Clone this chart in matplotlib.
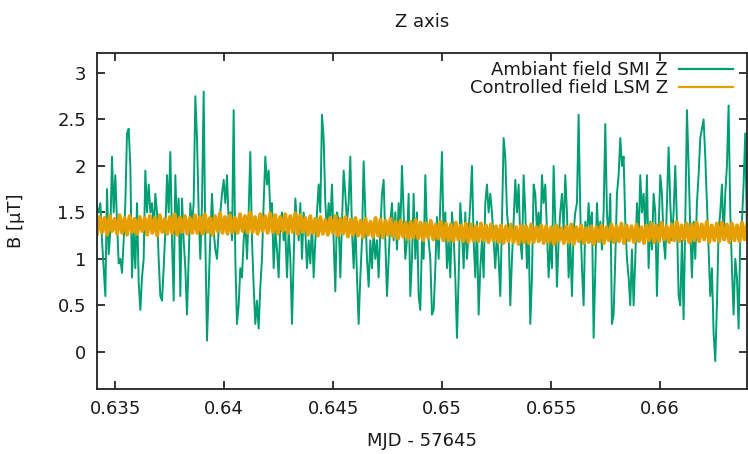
import matplotlib
matplotlib.use("Agg")
import matplotlib.pyplot as plt
import numpy as np

# time axis (MJD - 57645): first sample and sample step
t_start = 0.63417
t_step = 7.645e-5

# ambient field, SMI sensor, Z component [uT]
smi_z = [
    1.55, 1.5, 1.6, 1.2, 0.9, 0.6, 1.75, 1.05, 1.3, 2.1, 1.5, 1.9, 1.4, 0.95, 1.0, 0.85, 1.2, 1.6, 2.35, 2.4,
    2.0, 0.8, 1.3, 0.9, 1.6, 0.75, 0.45, 0.8, 1.0, 1.95, 1.5, 1.8, 1.5, 1.6, 1.3, 1.7, 1.5, 1.0, 0.6, 0.55,
    0.9, 1.3, 1.9, 1.5, 2.15, 1.2, 0.55, 1.9, 1.3, 1.65, 0.6, 1.65, 1.2, 0.9, 0.4, 1.0, 1.6, 1.35, 1.6, 2.75,
    2.3, 1.5, 1.0, 1.6, 2.8, 1.2, 0.12, 0.7, 1.25, 1.7, 1.3, 1.1, 1.0, 1.3, 1.5, 1.7, 1.85, 1.6, 1.9, 1.4,
    1.5, 1.2, 2.6, 1.0, 0.3, 0.5, 0.9, 0.8, 1.2, 1.4, 1.0, 1.5, 2.15, 1.2, 0.7, 0.3, 0.55, 0.25, 0.7, 1.0,
    1.6, 2.1, 1.8, 1.95, 1.5, 1.6, 0.9, 1.3, 1.1, 0.8, 1.4, 1.5, 1.2, 1.3, 0.8, 1.3, 1.0, 0.3, 1.0, 1.65,
    1.4, 1.2, 1.6, 1.0, 1.5, 1.3, 0.9, 1.2, 0.95, 1.4, 0.8, 1.2, 1.5, 1.8, 1.5, 2.55, 2.3, 1.6, 1.3, 1.6,
    1.4, 1.8, 1.2, 0.65, 1.5, 1.4, 0.8, 1.4, 1.95, 1.7, 1.4, 1.6, 2.1, 1.3, 0.9, 1.4, 0.8, 0.3, 0.8, 1.2,
    2.05, 1.5, 1.0, 0.7, 1.2, 0.9, 1.3, 1.0, 1.2, 0.8, 1.3, 1.7, 1.85, 1.2, 0.6, 1.0, 1.4, 1.6, 1.2, 1.5,
    1.1, 1.6, 1.3, 2.0, 1.5, 1.0, 1.2, 1.7, 0.6, 1.0, 1.7, 1.0, 1.5, 0.6, 0.45, 1.2, 1.0, 1.9, 1.3,
    1.2, 1.0, 0.4, 0.45, 0.9, 1.45, 1.0, 1.6, 2.15, 1.2, 1.5, 0.9, 1.2, 0.8, 1.5, 1.25, 0.8, 0.15, 0.8, 1.6,
    1.3, 0.9, 1.5, 1.0, 1.3, 1.6, 2.0, 1.2, 0.8, 1.4, 0.4, 0.9, 1.2, 0.8, 1.6, 1.8, 1.5, 1.7, 1.5, 1.2,
    0.9, 1.3, 1.0, 0.6, 1.4, 2.3, 2.1, 1.5, 1.3, 0.5, 1.0, 1.4, 1.85, 1.5, 1.8, 1.2, 1.0, 1.9, 1.5, 0.9,
    1.3, 0.3, 0.8, 1.8, 1.7, 1.3, 1.5, 1.2, 1.9, 1.6, 1.8, 1.3, 0.8, 1.2, 0.9, 2.0, 1.4, 0.7, 1.2, 1.5,
    1.7, 1.3, 1.9, 1.5, 0.8, 1.2, 0.6, 1.3, 1.5, 1.6, 2.55, 1.5, 0.9, 0.5, 1.4, 1.2, 1.6, 1.3, 1.5, 0.15,
    0.9, 1.6, 1.2, 1.4, 1.1, 1.5, 2.45, 1.5, 1.2, 1.7, 0.3, 0.4, 1.0, 1.7, 1.9, 2.3, 2.0, 2.1, 1.4, 1.0,
    0.8, 0.5, 1.1, 0.5, 1.0, 1.6, 1.2, 1.9, 1.5, 1.7, 1.3, 1.9, 0.9, 1.4, 1.1, 1.7, 1.5, 0.6, 1.3, 1.9,
    1.7, 1.2, 1.0, 1.6, 2.2, 1.6, 1.2, 1.5, 2.0, 1.4, 0.6, 0.5, 1.2, 0.35, 1.4, 2.6, 2.0, 1.3, 0.8, 1.4,
    1.0, 1.6, 1.9, 2.3, 2.4, 2.5, 2.1, 1.6, 1.1, 0.6, 0.9, 0.2, -0.1, 0.5, 1.3, 1.5, 1.8, 1.2, 1.7, 2.0,
    2.65, 1.5, 0.9, 0.4, 1.0, 0.8, 0.25, 1.2, 1.4, 1.8, 2.35, 1.3,
]

# controlled field, LSM sensor, Z component [uT]
lsm_z = [
    1.27, 1.45, 1.29, 1.44, 1.26, 1.46, 1.30, 1.43, 1.27, 1.47, 1.28, 1.44, 1.26, 1.46, 1.29, 1.43, 1.27, 1.45, 1.30, 1.44,
    1.26, 1.46, 1.28, 1.44, 1.25, 1.47, 1.29, 1.43, 1.27, 1.45, 1.28, 1.48, 1.26, 1.44, 1.29, 1.46, 1.27, 1.44, 1.28, 1.47,
    1.28, 1.45, 1.27, 1.48, 1.29, 1.44, 1.26, 1.46, 1.30, 1.49, 1.28, 1.45, 1.27, 1.47, 1.29, 1.44, 1.28, 1.48, 1.30, 1.46,
    1.28, 1.50, 1.29, 1.45, 1.27, 1.48, 1.30, 1.46, 1.28, 1.49, 1.29, 1.47, 1.27, 1.45, 1.30, 1.48, 1.28, 1.46, 1.29, 1.49,
    1.27, 1.47, 1.29, 1.44, 1.26, 1.46, 1.28, 1.43, 1.25, 1.45, 1.27, 1.42, 1.26, 1.44, 1.28, 1.46, 1.25, 1.43, 1.27, 1.45,
    1.24, 1.42, 1.26, 1.44, 1.25, 1.41, 1.23, 1.43, 1.26, 1.40, 1.24, 1.44, 1.25, 1.42, 1.23, 1.41, 1.26, 1.43, 1.24, 1.40,
    1.22, 1.41, 1.24, 1.39, 1.21, 1.40, 1.23, 1.42, 1.22, 1.39, 1.20, 1.38, 1.23, 1.41, 1.21, 1.37, 1.22, 1.40, 1.20, 1.38,
    1.20, 1.37, 1.19, 1.39, 1.21, 1.36, 1.19, 1.38, 1.18, 1.37, 1.20, 1.35, 1.19, 1.38, 1.20, 1.36, 1.18, 1.37, 1.20, 1.35,
    1.18, 1.36, 1.17, 1.35, 1.19, 1.37, 1.18, 1.34, 1.16, 1.36, 1.18, 1.35, 1.17, 1.37, 1.18, 1.34, 1.19, 1.36, 1.17, 1.35,
    1.18, 1.34, 1.16, 1.36, 1.19, 1.33, 1.17, 1.35, 1.18, 1.37, 1.16, 1.34, 1.19, 1.36, 1.17, 1.33, 1.18, 1.35, 1.16, 1.34,
    1.19, 1.36, 1.17, 1.34, 1.20, 1.37, 1.18, 1.35, 1.19, 1.38, 1.17, 1.36, 1.20, 1.35, 1.18, 1.37, 1.19, 1.34, 1.17, 1.36,
    1.20, 1.38, 1.18, 1.36, 1.19, 1.39, 1.21, 1.35, 1.18, 1.37, 1.20, 1.40, 1.19, 1.36, 1.21, 1.38, 1.18, 1.37, 1.20, 1.39,
    1.19, 1.37, 1.21, 1.40, 1.18, 1.36, 1.20, 1.38, 1.19, 1.39, 1.21, 1.37, 1.18, 1.38, 1.20, 1.36, 1.19, 1.39, 1.21, 1.37,
]

x_ticks = [0.635, 0.64, 0.645, 0.65, 0.655, 0.66]
x_labels = ["0.635", "0.64", "0.645", "0.65", "0.655", "0.66"]
y_ticks = [0, 0.5, 1, 1.5, 2, 2.5, 3]
y_labels = ["0", "0.5", "1", "1.5", "2", "2.5", "3"]

t_end = t_start + t_step * (len(smi_z) - 1)
t_smi = t_start + t_step * np.arange(len(smi_z))
t_lsm = np.linspace(t_start, t_end, len(lsm_z))

plt.rcParams['font.family'] = 'DejaVu Sans'
plt.rcParams['font.size'] = 13
txt = '#1a1a1a'

fig = plt.figure(figsize=(7.48, 4.54), dpi=100)
ax = fig.add_axes([0.1297, 0.1432, 0.869, 0.7401])

ax.plot(t_smi, smi_z, color='#009e73', lw=1.4, label='Ambiant field SMI Z')
ax.plot(t_lsm, lsm_z, color='#e69f00', lw=2.8, label='Controlled field LSM Z')

ax.set_xlim(0.63417, 0.66399)
ax.set_ylim(-0.4, 3.215)
ax.set_xticks(x_ticks)
ax.set_xticklabels(x_labels)
ax.set_yticks(y_ticks)
ax.set_yticklabels(y_labels)

ax.tick_params(direction='in', top=True, right=True, length=6, width=1.1,
               labelsize=13, labelcolor=txt, pad=8)
for s in ax.spines.values():
    s.set_linewidth(1.3)
    s.set_color('#222222')

ax.set_title('Z axis', fontsize=13, color=txt, pad=19)
ax.set_xlabel('MJD - 57645', fontsize=13, color=txt)
ax.set_ylabel('B [μT]', fontsize=13, color=txt)
ax.xaxis.set_label_coords(0.5, -0.128)
ax.yaxis.set_label_coords(-0.111, 0.5)

leg = ax.legend(loc='upper right', bbox_to_anchor=(0.9785, 0.975), frameon=False,
                markerfirst=False, handlelength=3.0, handletextpad=0.6,
                labelspacing=0.0, borderpad=0, borderaxespad=0, fontsize=13)
for t in leg.get_texts():
    t.set_color(txt)
for ln in leg.get_lines():
    ln.set_linewidth(1.6)

fig.savefig('out.png', dpi=100)
